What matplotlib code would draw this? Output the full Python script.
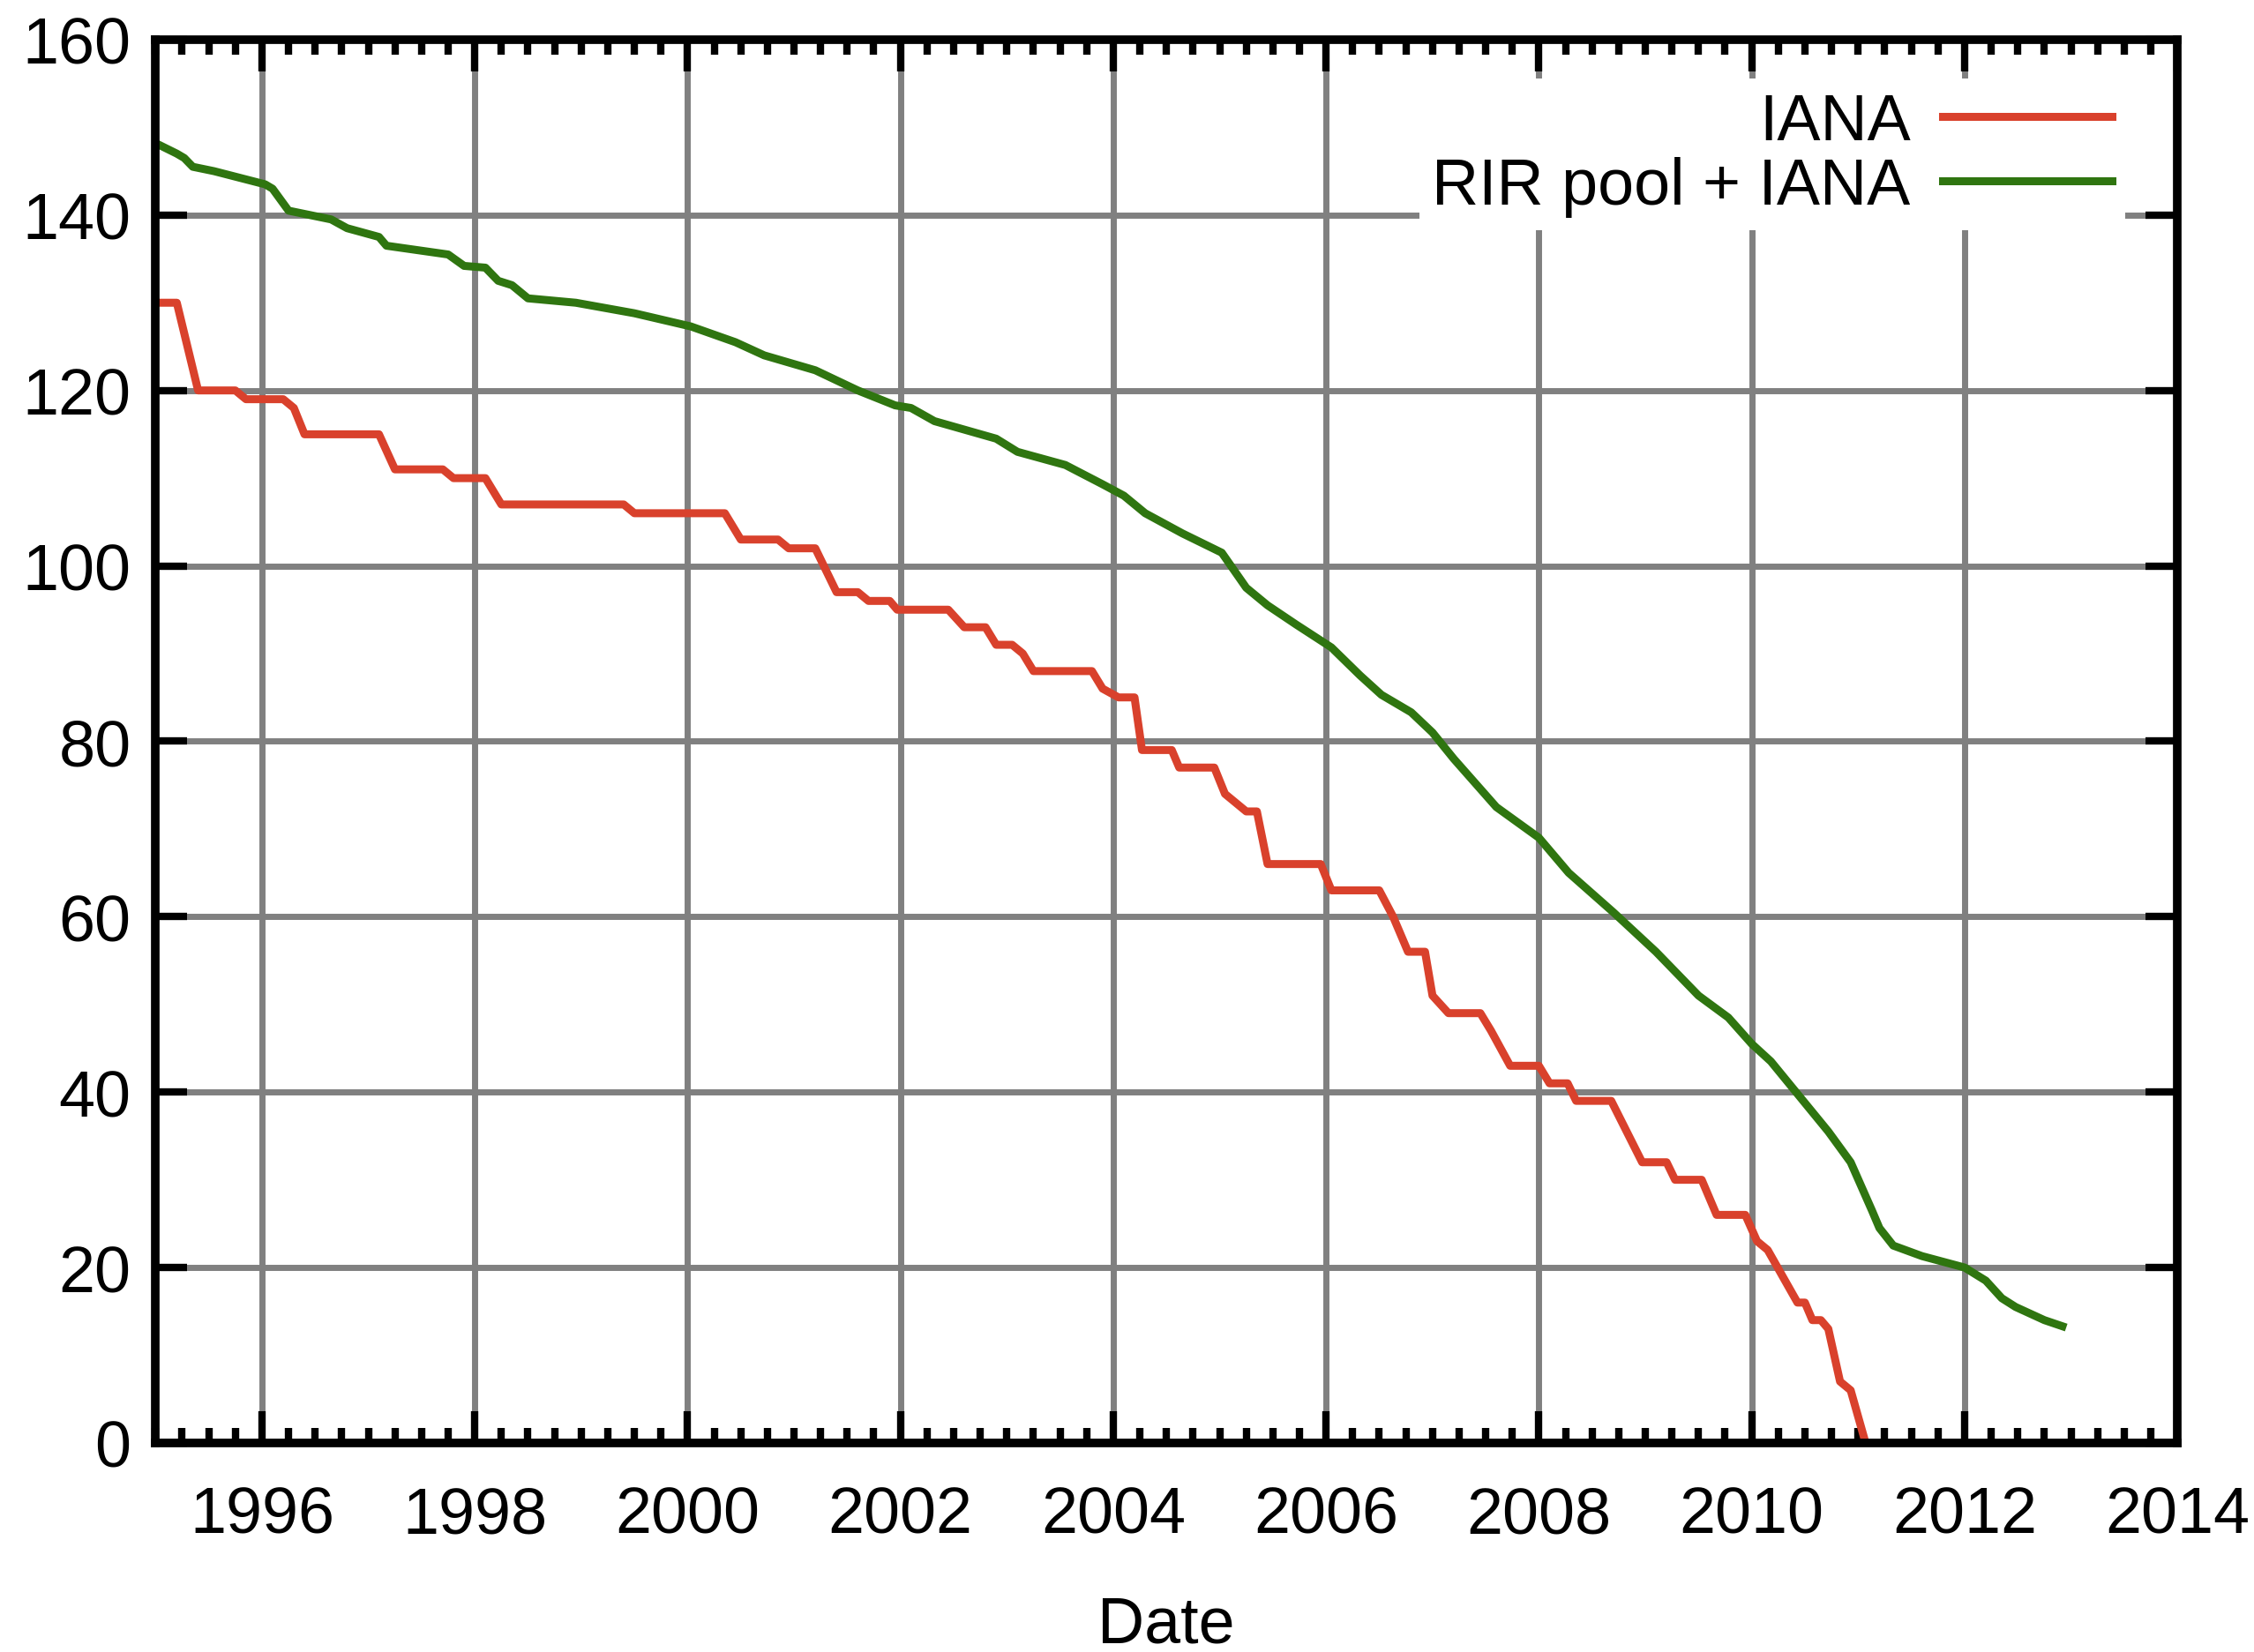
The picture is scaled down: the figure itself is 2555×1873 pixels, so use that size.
import matplotlib
matplotlib.use('Agg')
import matplotlib.pyplot as plt
from matplotlib.ticker import MultipleLocator

# IANA free pool (/8 blocks), step-like trace
iana_year = [1995.0, 1995.2, 1995.4, 1995.75, 1995.85, 1996.2, 1996.3, 1996.4,
             1997.1, 1997.25, 1997.7, 1997.8, 1998.1, 1998.25, 1999.4, 1999.5,
             2000.35, 2000.5, 2000.85, 2000.95, 2001.2, 2001.4, 2001.6, 2001.7,
             2001.9, 2001.97, 2002.45, 2002.6, 2002.8, 2002.9, 2003.05, 2003.15,
             2003.25, 2003.8, 2003.9, 2004.05, 2004.2, 2004.27, 2004.55, 2004.62,
             2004.95, 2005.05, 2005.25, 2005.35, 2005.45, 2005.95, 2006.05, 2006.5,
             2006.63, 2006.77, 2006.93, 2007.0, 2007.15, 2007.45, 2007.55, 2007.73,
             2008.0, 2008.1, 2008.27, 2008.35, 2008.68, 2008.97, 2009.2, 2009.28,
             2009.53, 2009.67, 2009.94, 2010.05, 2010.15, 2010.43, 2010.5, 2010.57,
             2010.65, 2010.72, 2010.83, 2010.93, 2011.07]
iana_blocks = [130, 130, 120, 120, 119, 119, 118, 115,
               115, 111, 111, 110, 110, 107, 107, 106,
               106, 103, 103, 102, 102, 97, 97, 96,
               96, 95, 95, 93, 93, 91, 91, 90,
               88, 88, 86, 85, 85, 79, 79, 77,
               77, 74, 72, 72, 66, 66, 63, 63,
               60, 56, 56, 51, 49, 49, 47, 43,
               43, 41, 41, 39, 39, 32, 32, 30,
               30, 26, 26, 23, 22, 16, 16, 14,
               14, 13, 7, 6, 0]

# RIR pool + IANA
rir_year = [1995.0, 1995.2, 1995.27, 1995.35, 1995.55, 1996.03, 1996.1, 1996.25,
            1996.65, 1996.8, 1997.1, 1997.17, 1997.75, 1997.9, 1998.1, 1998.22,
            1998.35, 1998.5, 1998.95, 1999.5, 2000.03, 2000.45, 2000.72, 2001.2,
            2001.6, 2001.95, 2002.1, 2002.32, 2002.9, 2003.1, 2003.55, 2003.9,
            2004.1, 2004.3, 2004.65, 2005.02, 2005.25, 2005.45, 2005.72, 2006.05,
            2006.32, 2006.52, 2006.8, 2007.0, 2007.2, 2007.6, 2008.0, 2008.28,
            2008.7, 2009.1, 2009.5, 2009.78, 2010.0, 2010.18, 2010.45, 2010.72,
            2010.93, 2011.13, 2011.2, 2011.33, 2011.6, 2012.0, 2012.2, 2012.35,
            2012.48, 2012.75, 2012.92]
rir_blocks = [148.2, 147, 146.5, 145.5, 145, 143.5, 143, 140.5,
              139.5, 138.5, 137.5, 136.5, 135.5, 134.2, 134, 132.5,
              132, 130.5, 130, 128.8, 127.3, 125.5, 124, 122.3,
              120, 118.3, 118, 116.5, 114.5, 113, 111.5, 109.3,
              108, 106, 103.7, 101.5, 97.5, 95.5, 93.3, 90.7,
              87.5, 85.3, 83.3, 81, 78, 72.5, 69, 65,
              60.5, 56, 51, 48.5, 45.5, 43.5, 39.5, 35.5,
              32, 26.5, 24.5, 22.5, 21.3, 20, 18.5, 16.5,
              15.5, 14, 13.3]

x_ticks = list(range(1996, 2015, 2))
y_ticks = list(range(0, 161, 20))

plt.rcParams['font.family'] = ['Liberation Sans', 'DejaVu Sans']

fig = plt.figure(figsize=(25.55, 18.74), dpi=100)
ax = fig.add_axes([0.069, 0.1265, 0.897, 0.849])
ax.set_axisbelow(True)

ax.plot(iana_year, iana_blocks, color='#d9412c', lw=6.5, label='IANA')
ax.plot(rir_year, rir_blocks, color='#2f7510', lw=6.5, label='RIR pool + IANA')

ax.set_xlim(1995, 2014)
ax.set_ylim(0, 160)
ax.set_xticks(x_ticks)
ax.set_yticks(y_ticks)
ax.xaxis.set_minor_locator(MultipleLocator(0.25))

ax.grid(True, which='major', color='#808080', lw=5)
for s in ax.spines.values():
    s.set_linewidth(7)

ax.tick_params(which='both', direction='in', top=True, right=True,
               width=6, labelsize=53, color='black')
ax.tick_params(axis='x', which='major', length=26, pad=34)
ax.tick_params(axis='x', which='minor', length=12)
ax.tick_params(axis='y', which='major', length=26, pad=20)

ax.set_xlabel('Date', fontsize=53, labelpad=40)

leg = ax.legend(loc='upper right', bbox_to_anchor=(0.974, 0.972),
                markerfirst=False, frameon=True, fancybox=False,
                edgecolor='none', facecolor='white', framealpha=1,
                fontsize=53, handlelength=2.6, handletextpad=0.5,
                labelspacing=0.05, borderpad=0.2, borderaxespad=0)
for t in leg.get_texts():
    t.set_ha('right')
leg._legend_box.align = 'right'

fig.savefig('out.png', dpi=100)
